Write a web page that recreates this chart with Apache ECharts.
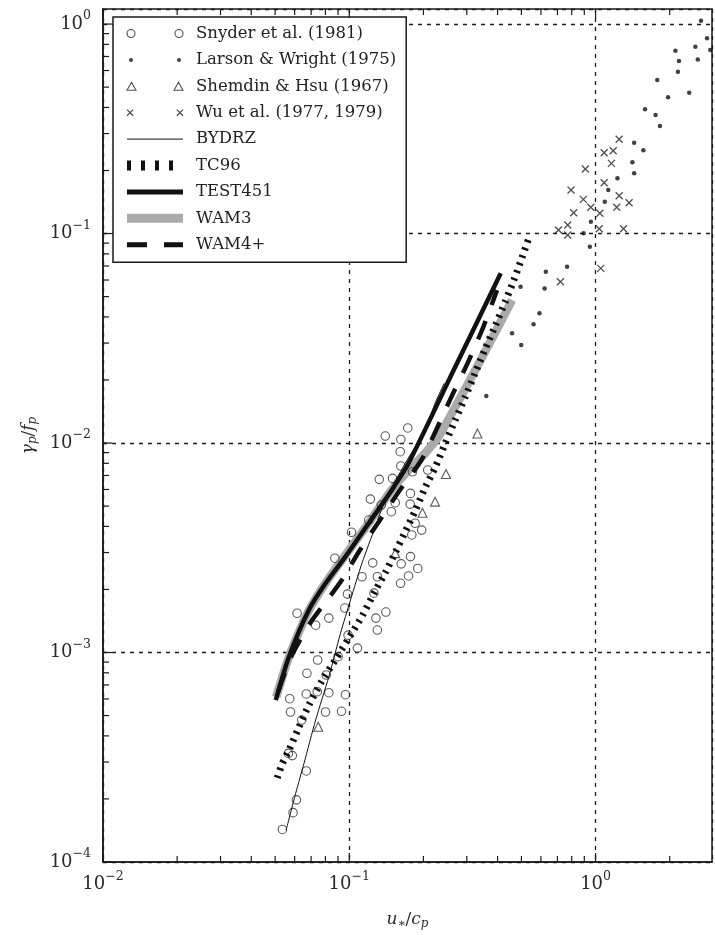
<!DOCTYPE html>
<html>
<head>
<meta charset="utf-8">
<script src="https://cdn.jsdelivr.net/npm/echarts@6/dist/echarts.min.js"></script>
<style>
  html, body { margin: 0; padding: 0; background: #fff; }
  #chart { width: 715px; height: 935px; }
</style>
</head>
<body>
<div id="chart"></div>
<script>
// axis ranges (the figure is cropped on the right)
const X_MIN = 0.01, X_MAX = 2.97
const Y_MIN = 1e-4, Y_MAX = 1.18

// observations
const snyder = [
  [0.0535, 1.43e-4], [0.0591, 1.72e-4], [0.0610, 1.98e-4], [0.0669, 2.72e-4],
  [0.0587, 3.22e-4], [0.0577, 5.20e-4], [0.0573, 6.02e-4], [0.0669, 6.34e-4],
  [0.0641, 4.76e-4], [0.0801, 5.20e-4], [0.0930, 5.24e-4], [0.0826, 6.43e-4],
  [0.0965, 6.29e-4], [0.0673, 7.96e-4], [0.0744, 9.21e-4], [0.1079, 1.05e-3],
  [0.0614, 1.54e-3], [0.0730, 1.35e-3], [0.0826, 1.46e-3], [0.0959, 1.63e-3],
  [0.0983, 1.90e-3], [0.0874, 2.82e-3], [0.1126, 2.30e-3], [0.1245, 2.68e-3],
  [0.1300, 2.30e-3], [0.1259, 1.92e-3], [0.1283, 1.46e-3], [0.1300, 1.28e-3],
  [0.1408, 1.56e-3], [0.1615, 2.14e-3], [0.1740, 2.32e-3], [0.1625, 2.65e-3],
  [0.1772, 2.87e-3], [0.1897, 2.52e-3], [0.1021, 3.75e-3], [0.1199, 4.29e-3],
  [0.1794, 3.64e-3], [0.1968, 3.84e-3], [0.1851, 4.14e-3], [0.1767, 5.11e-3],
  [0.1537, 5.19e-3], [0.1218, 5.40e-3], [0.1400, 1.08e-2], [0.1728, 1.18e-2],
  [0.1619, 1.04e-2], [0.1610, 9.09e-3], [0.1619, 7.77e-3], [0.1324, 6.71e-3],
  [0.1499, 6.78e-3], [0.1349, 5.06e-3], [0.1481, 4.70e-3], [0.1772, 5.75e-3],
  [0.2082, 7.43e-3], [0.1806, 7.29e-3], [0.0566, 3.30e-4], [0.0741, 6.50e-4],
  [0.0806, 7.81e-4], [0.0901, 9.55e-4], [0.0989, 1.21e-3]
]
const larson = [
  [2.68, 1.037], [2.835, 0.855], [2.924, 0.751], [2.543, 0.779], [2.60, 0.678],
  [2.11, 0.746], [2.18, 0.666], [2.16, 0.592], [2.40, 0.470], [1.78, 0.540],
  [1.97, 0.447], [1.588, 0.392], [1.752, 0.368], [1.825, 0.326], [1.434, 0.271],
  [1.563, 0.250], [1.411, 0.219], [1.434, 0.194], [1.227, 0.1834], [1.126, 0.1613],
  [1.090, 0.1418], [0.957, 0.1138], [0.894, 0.1002], [0.948, 0.0865], [0.766, 0.0694],
  [0.628, 0.0657], [0.621, 0.0547], [0.496, 0.0557], [0.592, 0.0416], [0.560, 0.0369],
  [0.458, 0.0334], [0.499, 0.0294], [0.360, 0.01677]
]
const shemdin = [
  [0.0748, 4.42e-4], [0.1537, 2.98e-3], [0.1982, 4.65e-3], [0.223, 5.25e-3],
  [0.247, 7.11e-3], [0.3314, 1.11e-2]
]
const wu = [
  [1.247, 0.2817], [1.084, 0.243], [1.179, 0.2484], [1.160, 0.2163], [0.909, 0.2032],
  [1.084, 0.1748], [0.795, 0.1613], [1.247, 0.1515], [0.892, 0.1456], [1.368, 0.1403],
  [1.219, 0.1334], [0.957, 0.1334], [1.041, 0.1249], [0.815, 0.1257], [0.771, 0.1098],
  [0.707, 0.1039], [0.771, 0.0984], [1.035, 0.1054], [1.298, 0.1054], [1.05, 0.0682],
  [0.720, 0.0589]
]

// model curves
const bydrz = [
  [0.0554, 1.42e-4], [0.0606, 2.13e-4], [0.0655, 2.96e-4], [0.0730, 4.76e-4],
  [0.0826, 7.66e-4], [0.0921, 1.235e-3], [0.1011, 1.78e-3], [0.1126, 2.67e-3],
  [0.1276, 3.99e-3], [0.140, 5.34e-3], [0.1687, 8.0e-3], [0.2032, 1.153e-2],
  [0.223, 1.547e-2], [0.243, 1.93e-2]
]
const tc96 = [
  [0.0510, 2.52e-4], [0.0534, 2.94e-4], [0.0569, 3.42e-4], [0.0625, 4.41e-4],
  [0.0686, 5.62e-4], [0.0774, 7.31e-4], [0.0882, 9.31e-4], [0.0995, 1.17e-3],
  [0.1134, 1.51e-3], [0.128, 1.99e-3], [0.1404, 2.42e-3], [0.1541, 3.02e-3],
  [0.1692, 3.80e-3], [0.1857, 4.79e-3], [0.2038, 6.17e-3], [0.2236, 7.68e-3],
  [0.2455, 1.0e-2], [0.2694, 1.29e-2], [0.2957, 1.66e-2], [0.3245, 2.16e-2],
  [0.356, 2.81e-2], [0.391, 3.62e-2], [0.429, 4.71e-2], [0.466, 6.0e-2],
  [0.502, 7.64e-2], [0.541, 9.84e-2]
]
const test451 = [
  [0.0503, 5.93e-4], [0.0569, 9.55e-4], [0.0686, 1.60e-3], [0.0801, 2.14e-3],
  [0.0965, 2.87e-3], [0.1199, 4.14e-3], [0.1489, 5.97e-3], [0.174, 8.0e-3],
  [0.267, 2.26e-2], [0.412, 6.46e-2]
]
const wam3 = [
  [0.0505, 6.13e-4], [0.0569, 9.52e-4], [0.068, 1.56e-3], [0.0796, 2.12e-3],
  [0.0959, 2.89e-3], [0.1199, 4.15e-3], [0.1485, 5.97e-3], [0.174, 7.43e-3],
  [0.200, 8.76e-3], [0.230, 1.07e-2], [0.264, 1.42e-2], [0.304, 1.93e-2],
  [0.350, 2.63e-2], [0.402, 3.58e-2], [0.458, 4.82e-2]
]
const wam4 = [
  [0.0514, 6.48e-4], [0.058, 9.52e-4], [0.0699, 1.40e-3], [0.0826, 1.82e-3],
  [0.095, 2.29e-3], [0.1092, 3.02e-3], [0.1316, 4.20e-3], [0.1585, 5.84e-3],
  [0.1963, 8.30e-3], [0.228, 1.19e-2], [0.264, 1.73e-2], [0.304, 2.44e-2],
  [0.350, 3.58e-2], [0.398, 5.37e-2]
]

// inward ticks on every side (2..9 x 10^k minor, 10^k major)
const xTicks = []
for (let k = -2; k <= 0; k++) {
  xTicks.push([Math.pow(10, k), Y_MIN, 9])
  for (let m = 2; m <= 9; m++) {
    const v = m * Math.pow(10, k)
    if (v < X_MAX) xTicks.push([v, Y_MIN, 6])
  }
}
const yTicks = []
for (let k = -4; k <= 0; k++) {
  yTicks.push([X_MIN, Math.pow(10, k), 9])
  for (let m = 2; m <= 9; m++) {
    const v = m * Math.pow(10, k)
    if (v < Y_MAX) yTicks.push([X_MIN, v, 6])
  }
}

const SERIF = 'DejaVu Serif'
const INK = '#1a1a1a'
const NO_SYMBOL = { color: 'rgba(0,0,0,0)', borderWidth: 0 }

const ICON_CIRCLES = 'path://M4,0A4,4,0,1,1,4,8A4,4,0,1,1,4,0ZM52,0A4,4,0,1,1,52,8A4,4,0,1,1,52,0Z'
const ICON_DOTS = 'path://M0,4L0,4M56,4L56,4M4,2A2,2,0,1,1,4,6A2,2,0,1,1,4,2ZM52,2A2,2,0,1,1,52,6A2,2,0,1,1,52,2Z'
const ICON_TRIS = 'path://M4.5,0L9,8L0,8ZM51.5,0L56,8L47,8Z'
const ICON_CROSS = 'path://M1,1L7,7M7,1L1,7M49,1L55,7M55,1L49,7'

const powLabel = (v) => {
  const e = Math.log10(v)
  const r = Math.round(e)
  if (Math.abs(e - r) > 1e-6) return ''
  return '{b|10}{s|' + (r < 0 ? '\u2212' + (-r) : r) + '}'
}
const labelRich = {
  b: { fontFamily: SERIF, fontSize: 18, color: '#2a2a2a' },
  s: { fontFamily: SERIF, fontSize: 12.5, color: '#2a2a2a', padding: [0, 0, 16, 0] }
}
const nameRich = {
  i: { fontFamily: SERIF, fontStyle: 'italic', fontSize: 17, color: '#2a2a2a' },
  n: { fontFamily: SERIF, fontSize: 17, color: '#2a2a2a' },
  sub: { fontFamily: SERIF, fontStyle: 'italic', fontSize: 12, color: '#2a2a2a', padding: [9, 0, 0, 0] }
}
const gridDash = { show: true, lineStyle: { color: INK, width: 1.3, type: [4, 5] } }

const tickSeries = (data, horizontal) => ({
  type: 'custom',
  silent: true,
  z: 5,
  data: data,
  renderItem: (params, api) => {
    const cs = params.coordSys
    const len = api.value(2)
    const st = { stroke: INK, lineWidth: 1.2 }
    if (horizontal) {
      const px = api.coord([api.value(0), Y_MIN])[0]
      const b = cs.y + cs.height
      return { type: 'group', children: [
        { type: 'line', shape: { x1: px, y1: b, x2: px, y2: b - len }, style: st },
        { type: 'line', shape: { x1: px, y1: cs.y, x2: px, y2: cs.y + len }, style: st }
      ] }
    }
    const py = api.coord([X_MIN, api.value(1)])[1]
    return { type: 'line', shape: { x1: cs.x, y1: py, x2: cs.x + len, y2: py }, style: st }
  }
})

const chart = echarts.init(document.getElementById('chart'))
chart.setOption({
  animation: false,
  backgroundColor: '#fff',
  grid: { left: 103, top: 9, right: 0, bottom: 73, show: true, borderColor: INK, borderWidth: 1.5 },
  xAxis: {
    type: 'log', min: X_MIN, max: X_MAX,
    axisLine: { show: true, lineStyle: { color: INK, width: 1.5 } },
    axisTick: { show: false },
    splitLine: gridDash,
    axisLabel: { formatter: powLabel, rich: labelRich, margin: 8 },
    name: '{i|u}{sub|\u2217}{n|/}{i|c}{sub|p}',
    nameLocation: 'middle', nameGap: 47,
    nameTextStyle: { rich: nameRich }
  },
  yAxis: {
    type: 'log', min: Y_MIN, max: Y_MAX,
    axisLine: { show: true, lineStyle: { color: INK, width: 1.5 } },
    axisTick: { show: false },
    splitLine: gridDash,
    axisLabel: { formatter: powLabel, rich: labelRich, margin: 12 },
    name: '{i|\u03b3}{sub|p}{n|/}{i|f}{sub|p}',
    nameLocation: 'middle', nameGap: 52, nameRotate: 90,
    nameTextStyle: { rich: nameRich }
  },
  legend: {
    left: 113, top: 17,
    orient: 'vertical',
    padding: [8, 10, 9, 9],
    itemWidth: 56, itemHeight: 14, itemGap: 9.4,
    backgroundColor: '#fff', borderColor: INK, borderWidth: 1.5, borderRadius: 0,
    selectedMode: false,
    textStyle: { fontFamily: SERIF, fontSize: 16.5, color: '#222', padding: [0, 0, 0, 8] },
    data: [
      { name: 'Snyder et al. (1981)', icon: ICON_CIRCLES, itemStyle: { color: 'rgba(0,0,0,0)', borderColor: '#222', borderWidth: 1.1 } },
      { name: 'Larson & Wright (1975)', icon: ICON_DOTS, itemStyle: { color: '#111', borderWidth: 0 } },
      { name: 'Shemdin & Hsu (1967)', icon: ICON_TRIS, itemStyle: { color: 'rgba(0,0,0,0)', borderColor: '#222', borderWidth: 1.1 } },
      { name: 'Wu et al. (1977, 1979)', icon: ICON_CROSS, itemStyle: { color: 'rgba(0,0,0,0)', borderColor: '#222', borderWidth: 1.3 } },
      { name: 'BYDRZ', itemStyle: NO_SYMBOL, lineStyle: { color: '#111', width: 1, type: 'solid' } },
      { name: 'TC96', itemStyle: NO_SYMBOL, lineStyle: { color: '#111', width: 10, type: [4, 10] } },
      { name: 'TEST451', itemStyle: NO_SYMBOL, lineStyle: { color: '#111', width: 5, type: 'solid' } },
      { name: 'WAM3', itemStyle: NO_SYMBOL, lineStyle: { color: '#aaaaaa', width: 9, type: 'solid' } },
      { name: 'WAM4+', itemStyle: NO_SYMBOL, lineStyle: { color: '#111', width: 5, type: [20, 17] } }
    ]
  },
  series: [
    { name: 'WAM3', type: 'line', data: wam3, symbol: 'none', z: 1, smooth: 0.25,
      itemStyle: { color: '#aaaaaa' }, lineStyle: { color: '#aaaaaa', width: 8.5 } },
    { name: 'Snyder et al. (1981)', type: 'scatter', data: snyder, symbol: 'circle', symbolSize: 8.5, z: 2,
      itemStyle: { color: 'rgba(0,0,0,0)', borderColor: '#333', borderWidth: 1.1 } },
    { name: 'Larson & Wright (1975)', type: 'scatter', data: larson, symbol: 'circle', symbolSize: 4.5, z: 2,
      itemStyle: { color: '#111' } },
    { name: 'Shemdin & Hsu (1967)', type: 'scatter', data: shemdin, symbol: 'triangle', symbolSize: 9, z: 2,
      itemStyle: { color: 'rgba(0,0,0,0)', borderColor: '#333', borderWidth: 1.1 } },
    { name: 'Wu et al. (1977, 1979)', type: 'scatter', data: wu, symbol: 'path://M0,0L10,10M10,0L0,10', symbolSize: 7, z: 2,
      itemStyle: { color: 'rgba(0,0,0,0)', borderColor: '#222', borderWidth: 1.3 } },
    { name: 'TEST451', type: 'line', data: test451, symbol: 'none', z: 3, smooth: 0.25,
      itemStyle: { color: '#111' }, lineStyle: { color: '#111', width: 4.5 } },
    { name: 'WAM4+', type: 'line', data: wam4, symbol: 'none', z: 3, smooth: 0.25,
      itemStyle: { color: '#111' }, lineStyle: { color: '#111', width: 4.5, type: [20, 17] } },
    { name: 'TC96', type: 'line', data: tc96, symbol: 'none', z: 3, smooth: 0.25,
      itemStyle: { color: '#111' }, lineStyle: { color: '#111', width: 7, type: [2.5, 5.5] } },
    { name: 'BYDRZ', type: 'line', data: bydrz, symbol: 'none', z: 4, smooth: 0.25,
      itemStyle: { color: '#111' }, lineStyle: { color: '#111', width: 1 } },
    tickSeries(xTicks, true),
    tickSeries(yTicks, false)
  ]
})
</script>
</body>
</html>
